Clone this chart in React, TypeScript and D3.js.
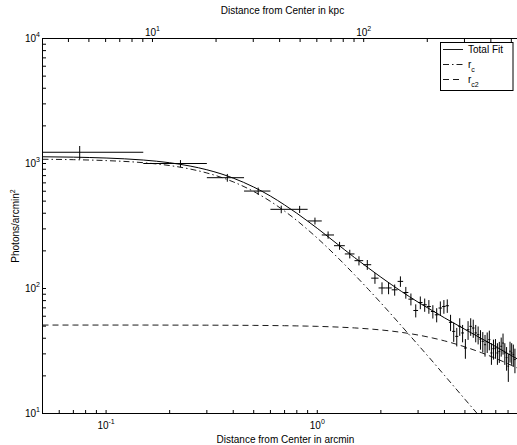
import { useRef, useEffect } from 'react';
import * as d3 from 'd3';

const WIDTH = 517;
const HEIGHT = 445;
const KPC_PER_ARCMIN = 60.3;

// radial bins in arcmin (each 0.15' wide)
const BIN_R = [
  0.075, 0.225, 0.375, 0.525, 0.675, 0.825, 0.975, 1.125, 1.275, 1.425, 1.575,
  1.725, 1.875, 2.025, 2.175, 2.325, 2.475, 2.625, 2.775, 2.925, 3.075, 3.225,
  3.375, 3.525, 3.675, 3.825, 3.975, 4.125, 4.275, 4.425, 4.575, 4.725, 4.875,
  5.025, 5.175, 5.325, 5.475, 5.625, 5.775, 5.925, 6.075, 6.225, 6.375, 6.525,
  6.675, 6.825, 6.975, 7.125, 7.275, 7.425, 7.575, 7.725, 7.875, 8.025, 8.175,
  8.325, 8.475, 8.625,
];
const BIN_HALF = 0.075;

// surface brightness (photons / arcmin^2)
const SB = [
  1230, 1000, 770, 602, 430, 430, 347, 268, 220, 189, 167, 155, 121, 101, 101,
  97.6, 114, 92.9, 82.2, 66.7, 77.3, 74.1, 71.8, 65.5, 61.6, 69.8, 71.8, 72.8,
  53.6, 45.4, 41.4, 49.8, 44.1, 33.4, 46.8, 49.8, 48.3, 44.1, 42.7, 39.4, 37.8,
  35.5, 37.5, 39.0, 30.5, 33.0, 33.4, 30.5, 31.4, 34.5, 36.6, 30.5, 28.0, 23.9,
  31.5, 30.5, 29.6, 27.0,
];
const SB_ERR = [
  150, 65, 55, 40, 30, 28, 22, 18, 16, 15, 14, 14, 12, 11, 11, 10, 11, 10, 9, 8,
  9, 9, 9, 8, 8, 9, 9, 9, 8, 8, 7, 8, 7, 6, 8, 8, 8, 7, 7, 7, 7, 7, 7, 7, 6, 6,
  6, 6, 6, 6, 7, 6, 6, 6, 6, 6, 6, 6,
];

// fitted model curves
const FIT_R = [
  0.05, 0.07, 0.1, 0.15, 0.2, 0.25, 0.3, 0.35, 0.4, 0.5, 0.6, 0.7, 0.8, 0.9, 1.0,
  1.2, 1.5, 1.75, 2.0, 2.5, 3.0, 3.5, 4.0, 5.0, 6.0, 7.0, 8.0, 9.0, 10.0,
];
const FIT_TOTAL = [
  1132, 1124, 1106, 1066, 1014, 954, 891, 827, 764, 648, 549, 466, 400, 346, 303,
  238, 177, 145.5, 123.3, 94.9, 77.8, 66.6, 58.3, 47.1, 39.7, 34.3, 30.1, 26.9,
  24.2,
];
const FIT_RC = [
  1081, 1073, 1055, 1015, 963, 903, 840, 776, 713, 597, 498, 416, 350, 296, 253,
  189, 129, 98.0, 76.7, 50.3, 35.4, 26.3, 20.2, 13.0, 9.08, 6.69, 5.13, 4.05,
  3.29,
];
const FIT_RC2 = [
  51.0, 51.0, 51.0, 51.0, 50.95, 50.92, 50.89, 50.85, 50.8, 50.69, 50.55, 50.39,
  50.21, 50.01, 49.79, 49.28, 48.38, 47.53, 46.61, 44.59, 42.44, 40.26, 38.12,
  34.12, 30.6, 27.58, 25.0, 22.8, 20.93,
];

const X_POW = [-1, 0];
const KPC_POW = [1, 2];
const Y_POW = [1, 2, 3, 4];

const LEGEND = [
  { label: 'Total Fit', sub: '', dash: null as string | null },
  { label: 'r', sub: 'c', dash: '6,3,1.5,3' },
  { label: 'r', sub: 'c2', dash: '6,4' },
];

const FONT = "'Liberation Sans', Arial, Helvetica, sans-serif";

export default function App() {
  const svgRef = useRef<SVGSVGElement>(null);

  useEffect(() => {
    if (!svgRef.current) return;
    const svg = d3.select(svgRef.current);
    svg.selectAll('*').remove();

    const m = { left: 42.5, right: 528.5, top: 38.5, bottom: 413.5 };

    const x = d3.scaleLog().domain([0.05, 10]).range([m.left, m.right]);
    const xk = d3
      .scaleLog()
      .domain([0.05 * KPC_PER_ARCMIN, 10 * KPC_PER_ARCMIN])
      .range([m.left, m.right]);
    const y = d3.scaleLog().domain([10, 1e4]).range([m.bottom, m.top]);

    svg
      .append('rect')
      .attr('width', WIDTH)
      .attr('height', HEIGHT)
      .attr('fill', '#fff');

    svg
      .append('defs')
      .append('clipPath')
      .attr('id', 'plot-clip')
      .append('rect')
      .attr('x', m.left)
      .attr('y', m.top)
      .attr('width', m.right - m.left)
      .attr('height', m.bottom - m.top);

    const plot = svg.append('g').attr('clip-path', 'url(#plot-clip)');

    // model curves
    const line = d3
      .line<number>()
      .x((_, i) => x(FIT_R[i]))
      .y((d) => y(d))
      .curve(d3.curveMonotoneX);

    plot
      .append('path')
      .attr('d', line(FIT_RC2))
      .attr('fill', 'none')
      .attr('stroke', '#000')
      .attr('stroke-width', 0.9)
      .attr('stroke-dasharray', '6,4');
    plot
      .append('path')
      .attr('d', line(FIT_RC))
      .attr('fill', 'none')
      .attr('stroke', '#000')
      .attr('stroke-width', 0.9)
      .attr('stroke-dasharray', '6,3,1.5,3');
    plot
      .append('path')
      .attr('d', line(FIT_TOTAL))
      .attr('fill', 'none')
      .attr('stroke', '#000')
      .attr('stroke-width', 1);

    // data with error bars
    BIN_R.forEach((r, i) => {
      const cx = x(r);
      const cy = y(SB[i]);
      plot
        .append('line')
        .attr('x1', cx)
        .attr('x2', cx)
        .attr('y1', y(SB[i] - SB_ERR[i]))
        .attr('y2', y(SB[i] + SB_ERR[i]))
        .attr('stroke', '#000')
        .attr('stroke-width', 1);
      plot
        .append('line')
        .attr('x1', x(Math.max(r - BIN_HALF, 0.04)))
        .attr('x2', x(r + BIN_HALF))
        .attr('y1', cy)
        .attr('y2', cy)
        .attr('stroke', '#000')
        .attr('stroke-width', 1);
    });

    // frame
    svg
      .append('rect')
      .attr('x', m.left)
      .attr('y', m.top)
      .attr('width', m.right - m.left)
      .attr('height', m.bottom - m.top)
      .attr('fill', 'none')
      .attr('stroke', '#000')
      .attr('stroke-width', 1);

    const tickLen = 3.5;
    const axes = svg.append('g').attr('stroke', '#000').attr('stroke-width', 1);

    x.ticks().forEach((v) => {
      axes
        .append('line')
        .attr('x1', x(v))
        .attr('x2', x(v))
        .attr('y1', m.bottom)
        .attr('y2', m.bottom - tickLen);
    });
    xk.ticks().forEach((v) => {
      axes
        .append('line')
        .attr('x1', xk(v))
        .attr('x2', xk(v))
        .attr('y1', m.top)
        .attr('y2', m.top + tickLen);
    });
    y.ticks().forEach((v) => {
      axes
        .append('line')
        .attr('x1', m.left)
        .attr('x2', m.left + tickLen)
        .attr('y1', y(v))
        .attr('y2', y(v));
      axes
        .append('line')
        .attr('x1', m.right)
        .attr('x2', m.right - tickLen)
        .attr('y1', y(v))
        .attr('y2', y(v));
    });

    const labels = svg
      .append('g')
      .attr('font-family', FONT)
      .attr('font-size', 10)
      .attr('fill', '#000');

    const powLabel = (
      px: number,
      py: number,
      p: number,
      anchor: string
    ) => {
      const t = labels
        .append('text')
        .attr('x', px)
        .attr('y', py)
        .attr('text-anchor', anchor)
        .text('10');
      t.append('tspan').attr('dy', -5).attr('font-size', 7).text(String(p));
    };

    X_POW.forEach((p) => powLabel(x(Math.pow(10, p)), 428.5, p, 'middle'));
    KPC_POW.forEach((p) => powLabel(xk(Math.pow(10, p)), 36, p, 'middle'));
    Y_POW.forEach((p) => powLabel(40, y(Math.pow(10, p)) + 3.5, p, 'end'));

    const midX = (m.left + m.right) / 2;
    labels
      .append('text')
      .attr('x', midX)
      .attr('y', 443)
      .attr('text-anchor', 'middle')
      .text('Distance from Center in arcmin');
    labels
      .append('text')
      .attr('x', midX - 3)
      .attr('y', 14)
      .attr('text-anchor', 'middle')
      .text('Distance from Center in kpc');

    const yl = labels
      .append('text')
      .attr('transform', `translate(19,${(m.top + m.bottom) / 2}) rotate(-90)`)
      .attr('text-anchor', 'middle')
      .text('Photons/arcmin');
    yl.append('tspan').attr('dy', -4).attr('font-size', 7).text('2');

    // legend
    const lg = svg.append('g');
    lg.append('rect')
      .attr('x', 440.5)
      .attr('y', 42.5)
      .attr('width', 72.5)
      .attr('height', 48)
      .attr('fill', '#fff')
      .attr('stroke', '#000')
      .attr('stroke-width', 1);

    LEGEND.forEach((d, i) => {
      const ly = 49.5 + i * 15;
      const seg = lg
        .append('line')
        .attr('x1', 443)
        .attr('x2', 463)
        .attr('y1', ly)
        .attr('y2', ly)
        .attr('stroke', '#000')
        .attr('stroke-width', 0.9);
      if (d.dash) seg.attr('stroke-dasharray', d.dash);
      const t = lg
        .append('text')
        .attr('x', 468)
        .attr('y', ly + 3.5)
        .attr('font-family', FONT)
        .attr('font-size', 10)
        .text(d.label);
      if (d.sub) {
        t.append('tspan').attr('dy', 3.5).attr('font-size', 7).text(d.sub);
      }
    });
  }, []);

  return (
    <svg
      ref={svgRef}
      width={WIDTH}
      height={HEIGHT}
      style={{ position: 'absolute', left: 0, top: 0, display: 'block' }}
    />
  );
}
